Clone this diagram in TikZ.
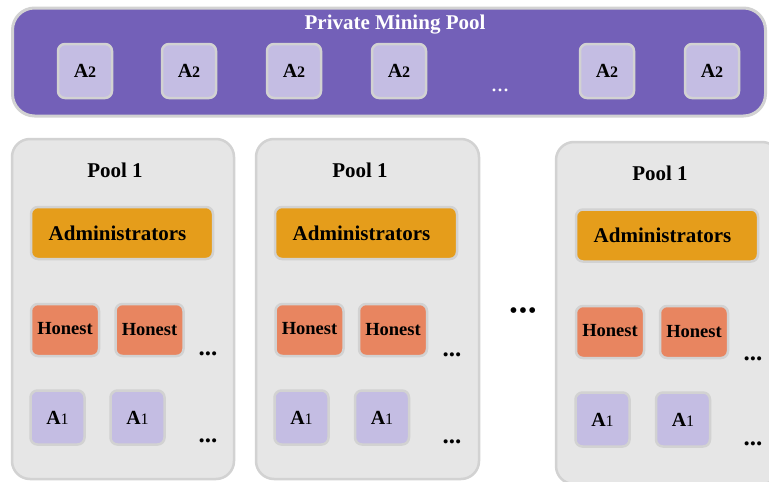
\documentclass[tikz,border=0pt]{standalone}
\usepackage{fontspec}
\setmainfont{Liberation Serif}
\definecolor{purplefill}{HTML}{7360B8}
\definecolor{bordergray}{HTML}{D2D2D2}
\definecolor{afill}{HTML}{C4BDE3}
\definecolor{poolfill}{HTML}{E6E6E6}
\definecolor{adminfill}{HTML}{E59D1B}
\definecolor{honestfill}{HTML}{E88560}
\begin{document}
\begin{tikzpicture}[x=1pt,y=-1pt,
  box/.style={draw=bordergray, line width=2.5pt, rounded corners=7pt, inner sep=0pt},
  abox/.style={box, fill=afill, minimum width=54pt, minimum height=54pt, font=\fontsize{20}{20}\selectfont\bfseries},
  hbox/.style={box, fill=honestfill, minimum width=68pt, minimum height=52pt, font=\fontsize{18.5}{18.5}\selectfont\bfseries},
  admbox/.style={box, fill=adminfill, minimum width=182pt, minimum height=52pt, font=\fontsize{21}{21}\selectfont\bfseries},
  poolbox/.style={draw=bordergray, fill=poolfill, line width=2.5pt, rounded corners=18pt, inner sep=0pt},
  pooltitle/.style={font=\fontsize{21}{21}\selectfont\bfseries, inner sep=0pt},
  smalldots/.style={anchor=base, font=\fontsize{25}{25}\selectfont\bfseries, inner sep=0pt}
]
\useasboundingbox (0,0) rectangle (769,482);
\newcommand{\Atwo}{A{\fontsize{16}{16}\selectfont 2}}
\newcommand{\Aone}{A{\fontsize{16}{16}\selectfont\mdseries 1}}
\newcommand{\Adm}{Administrators\hspace*{9pt}}

% private mining pool
\node[draw=bordergray, fill=purplefill, line width=3pt, rounded corners=22pt,
      minimum width=753pt, minimum height=108pt, inner sep=0pt] (private) at (389,62) {};
\node[pooltitle, text=white] (ptitle) at (395,25) {Private Mining Pool};
\node[abox] (b1) at (85,71) {\Atwo};
\node[abox] (b2) at (189,71) {\Atwo};
\node[abox] (b3) at (294,71) {\Atwo};
\node[abox] (b4) at (399,71) {\Atwo};
\node[smalldots, text=white, font=\fontsize{24}{24}\selectfont] (pdots) at (500,91) {...};
\node[abox] (b5) at (607,71) {\Atwo};
\node[abox] (b6) at (712,71) {\Atwo};

% pool 1
\node[poolbox, minimum width=222pt, minimum height=340pt] (p1) at (123,309) {};
\node[pooltitle] (p1t) at (115,170) {Pool 1};
\node[admbox] (p1a) at (122,233) {\Adm};
\node[hbox] (p1h1) at (65,330) {\raisebox{3pt}{Honest}};
\node[hbox] (p1h2) at (149.5,330) {Honest};
\node[smalldots] (p1d1) at (208,355) {...};
\node[abox] (p1m1) at (57.5,417.5) {\Aone};
\node[abox] (p1m2) at (137.5,417.5) {\Aone};
\node[smalldots] (p1d2) at (208,442) {...};

% pool 2
\node[poolbox, minimum width=223pt, minimum height=340pt] (p2) at (367.5,309) {};
\node[pooltitle] (p2t) at (360,170) {Pool 1};
\node[admbox] (p2a) at (366,233) {\Adm};
\node[hbox] (p2h1) at (309.5,330) {\raisebox{3pt}{Honest}};
\node[hbox] (p2h2) at (393,330) {Honest};
\node[smalldots] (p2d1) at (452,356) {...};
\node[abox] (p2m1) at (301.5,417.5) {\Aone};
\node[abox] (p2m2) at (382,417.5) {\Aone};
\node[smalldots] (p2d2) at (452,443) {...};

% middle dots
\node[font=\fontsize{24}{24}\selectfont, inner sep=0pt] (mid) at (523,313) {•\hspace{1pt}•\hspace{1pt}•};

% pool 3
\node[poolbox, minimum width=224pt, minimum height=342pt] (p3) at (668,313) {};
\node[pooltitle] (p3t) at (660,173) {Pool 1};
\node[admbox] (p3a) at (667,235.5) {\Adm};
\node[hbox] (p3h1) at (610,332) {\raisebox{3pt}{Honest}};
\node[hbox] (p3h2) at (694,332) {Honest};
\node[smalldots] (p3d1) at (753,360) {...};
\node[abox] (p3m1) at (602.5,419.5) {\Aone};
\node[abox] (p3m2) at (683,419.5) {\Aone};
\node[smalldots] (p3d2) at (753,445) {...};
\end{tikzpicture}
\end{document}
